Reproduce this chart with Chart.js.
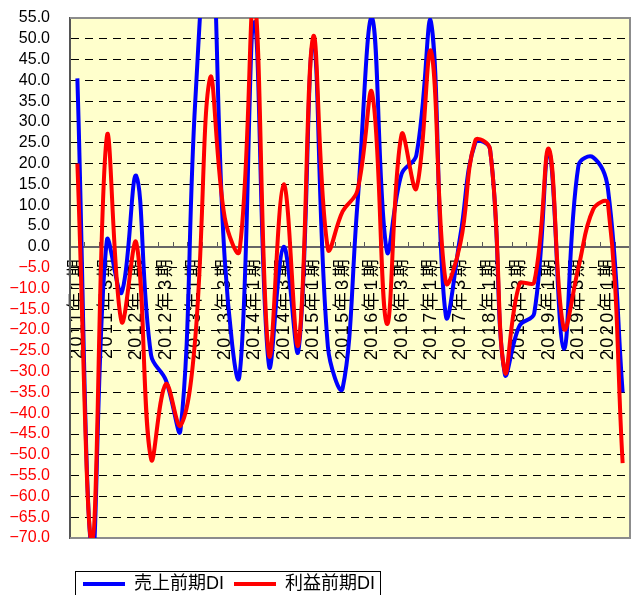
<!DOCTYPE html>
<html>
<head>
<meta charset="utf-8">
<script src="https://cdn.jsdelivr.net/npm/chart.js@4.4.1/dist/chart.umd.min.js"></script>
<style>
  html, body { margin: 0; padding: 0; background: #fff; }
  #wrap { width: 632px; height: 595px; position: relative; }
</style>
</head>
<body>
<div id="wrap"><canvas id="c"></canvas></div>
<script>
// ---- data ----
const categories = [
  '2011年1期','2011年2期','2011年3期','2011年4期',
  '2012年1期','2012年2期','2012年3期','2012年4期',
  '2013年1期','2013年2期','2013年3期','2013年4期',
  '2014年1期','2014年2期','2014年3期','2014年4期',
  '2015年1期','2015年2期','2015年3期','2015年4期',
  '2016年1期','2016年2期','2016年3期','2016年4期',
  '2017年1期','2017年2期','2017年3期','2017年4期',
  '2018年1期','2018年2期','2018年3期','2018年4期',
  '2019年1期','2019年2期','2019年3期','2019年4期',
  '2020年1期','2020年2期'
];
const salesDI = [
  40.5, -74, 1.5, -11, 17, -26, -32, -44,
  35, 80, -3, -31, 54, -28.5, 0, -25,
  49, -24, -34, 10, 55, -1, 17.5, 22,
  54, -16.5, 3, 25, 23.5, -30.5, -19, -16,
  23, -24.5, 19.5, 21.5, 14, -35
];
const profitDI = [
  20, -71, 26.5, -18, 1, -51, -33, -43,
  -22, 40.5, 7, -1, 60, -26, 15, -23.5,
  50.5, -0.5, 8.5, 13.5, 37, -18.5, 27, 14,
  47, -8.5, 1, 25.5, 23.5, -30, -9, -8.5,
  23.5, -19.5, -5, 9, 10.5, -52
];
const seriesNames = ['売上前期DI', '利益前期DI'];
const yMin = -70, yMax = 55, yStep = 5;

// ---- category scale with letter-spaced labels ----
class SpacedCategory extends Chart.CategoryScale {
  drawLabels(area) {
    const ctx = this.ctx;
    ctx.save();
    if ('letterSpacing' in ctx) ctx.letterSpacing = '2.5px';
    super.drawLabels(area);
    ctx.restore();
  }
}
SpacedCategory.id = 'spacedCategory';
SpacedCategory.defaults = Chart.CategoryScale.defaults;
Chart.register(SpacedCategory);

const plotFrame = {
  id: 'plotFrame',
  beforeDraw(chart) {
    const { ctx, chartArea: a } = chart;
    ctx.save();
    ctx.fillStyle = '#FFFFCC';
    ctx.fillRect(a.left, a.top, a.right - a.left, a.bottom - a.top);
    ctx.restore();
  },
  beforeDatasetsDraw(chart) {
    const { ctx, chartArea: a } = chart;
    ctx.save();
    ctx.strokeStyle = '#8c8c8c';
    ctx.lineWidth = 2;
    ctx.beginPath();
    ctx.moveTo(a.left, a.top);
    ctx.lineTo(a.right, a.top);
    ctx.lineTo(a.right, a.bottom);
    ctx.lineTo(a.left, a.bottom);
    ctx.stroke();
    ctx.restore();
  }
};

const legendPlace = {
  id: 'legendPlace',
  afterLayout(chart) {
    const lg = chart.legend;
    lg.left += 73; lg.right += 73;
    lg.top += 27; lg.bottom += 27;
  },
  afterDraw(chart) {
    const lg = chart.legend;
    const pad = lg.options.labels.padding;
    const x0 = lg.left + pad - 8;
    const x1 = lg.left + lg.lineWidths[0] + 5;
    const cy = lg.top + pad + 9;
    const ctx = chart.ctx;
    ctx.save();
    ctx.strokeStyle = '#000';
    ctx.lineWidth = 1;
    ctx.strokeRect(Math.round(x0) + 0.5, Math.round(cy - 13) + 0.5, Math.round(x1 - x0), 40);
    ctx.restore();
  }
};

const fontStack = '"Liberation Sans", "Noto Sans CJK JP", sans-serif';

new Chart(document.getElementById('c'), {
  type: 'line',
  data: {
    labels: categories,
    datasets: [
      { label: seriesNames[0], data: salesDI, borderColor: '#0000FF', backgroundColor: '#0000FF', order: 1 },
      { label: seriesNames[1], data: profitDI, borderColor: '#FF0000', backgroundColor: '#FF0000', order: 0 }
    ]
  },
  options: {
    responsive: true,
    maintainAspectRatio: false,
    animation: false,
    layout: { padding: { left: 0, right: 2, top: 18, bottom: 19 } },
    elements: {
      line: { borderWidth: 4, tension: 0.4, fill: false, capBezierPoints: false },
      point: { radius: 0, hoverRadius: 0 }
    },
    datasets: { line: { clip: 0 } },
    plugins: {
      tooltip: { enabled: false },
      legend: {
        position: 'bottom',
        align: 'start',
        labels: {
          boxWidth: 42,
          boxHeight: 4,
          padding: 10,
          color: '#000',
          font: { family: fontStack, size: 18 },
          sort: (a, b) => a.datasetIndex - b.datasetIndex,
          generateLabels(chart) {
            const items = Chart.defaults.plugins.legend.labels.generateLabels(chart);
            items.forEach(it => { it.lineWidth = 0; });
            return items;
          }
        }
      }
    },
    scales: {
      x: {
        type: 'spacedCategory',
        position: { y: 0 },
        offset: true,
        afterFit(scale) { scale.paddingLeft = 0; scale.paddingRight = 0; scale.paddingTop = 0; scale.paddingBottom = 0; },
        grid: { display: true, drawOnChartArea: false, drawTicks: true, tickLength: -6, offset: true, color: '#555', lineWidth: 1 },
        border: { display: true, color: '#666', width: 2 },
        ticks: {
          autoSkip: false,
          minRotation: 90,
          maxRotation: 90,
          padding: 16,
          color: '#000',
          font: { family: fontStack, size: 18 },
          callback: function (value, index) {
            return index % 2 === 0 ? this.getLabelForValue(value) : '';
          }
        }
      },
      y: {
        min: yMin,
        max: yMax,
        afterFit(scale) { scale.width = 70; scale.paddingTop = 0; scale.paddingBottom = 0; },
        grid: {
          drawTicks: false,
          lineWidth: 1,
          color: (c) => (c.tick && (c.tick.value === 0 || c.tick.value === yMax || c.tick.value === yMin)) ? 'rgba(0,0,0,0)' : '#000'
        },
        border: { display: true, color: '#555', width: 2, dash: [8, 6] },
        ticks: {
          stepSize: yStep,
          autoSkip: false,
          padding: 20,
          font: { family: fontStack, size: 16 },
          color: (c) => (c.tick && c.tick.value < 0) ? '#FF0000' : '#000',
          callback: (v) => (v < 0 ? '\u2212' + Math.abs(v).toFixed(1) : v.toFixed(1))
        }
      }
    }
  },
  plugins: [plotFrame, legendPlace]
});
</script>
</body>
</html>
